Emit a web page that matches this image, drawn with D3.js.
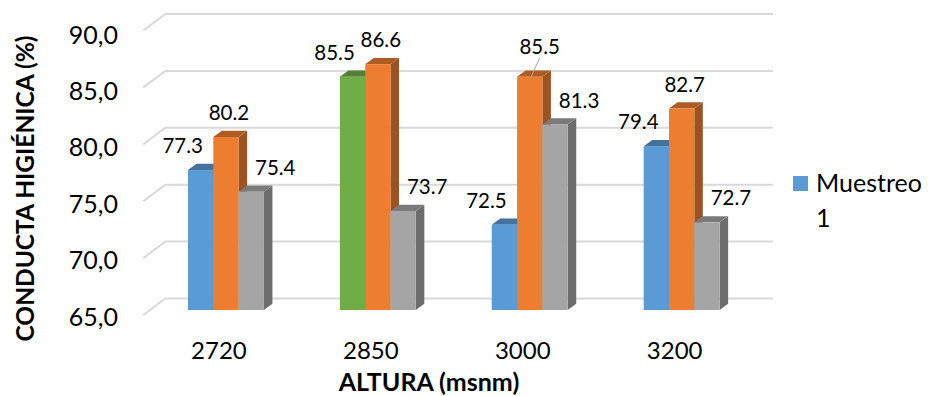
<!DOCTYPE html>
<html>
<head>
<meta charset="utf-8">
<script src="https://cdn.jsdelivr.net/npm/d3@7/dist/d3.min.js"></script>
<style>
  html, body { margin: 0; padding: 0; background: #ffffff; }
  svg { display: block; font-family: Lato, "Open Sans", "DejaVu Sans", sans-serif; }
</style>
</head>
<body>
<svg id="chart" width="928" height="396"></svg>
<script>
// ---- data ----
const categories = ["2720", "2850", "3000", "3200"];
const serie1 = [77.3, 85.5, 72.5, 79.4];
const serie2 = [80.2, 86.6, 85.5, 82.7];
const serie3 = [75.4, 73.7, 81.3, 72.7];
const yTicks = [65, 70, 75, 80, 85, 90];
const legendLabel = "Muestreo 1";
const yTitle = "CONDUCTA HIGIÉNICA (%)";
const xTitle = "ALTURA (msnm)";

// ---- styling ----
const seriesColors = ["#5B9BD5", "#ED7D31", "#A5A5A5"];
// the 2850 column of the first series is painted green
const pointColors = { "0-2850": "#70AD47" };
const labelDx = [-18, 3, 24];          // horizontal shift of each series' value label
const labelNudge = { "1-3000": [7, -6] }; // labels moved off their default spot (drawn with a leader)

const series = [serie1, serie2, serie3];
const svg = d3.select("#chart");
const commaFmt = d3.formatLocale({ decimal: ",", thousands: ".", grouping: [3], currency: ["", ""] }).format(".1f");

// ---- 3D geometry (oblique projection) ----
const wallShift = [15.3, -11.5];   // front plane of the columns -> back wall
const floorEdge = [-22, 16.5];     // back wall -> front edge of the side wall
const depth = [8.5, -6.2];         // depth of each column

const x = d3.scaleBand().domain(categories).range([150, 757.6]);
const y = d3.scaleLinear().domain([65, 90]).range([310, 25.5]);
const barW = x.bandwidth() * 0.5 / 3;

const yBack = v => y(v) + wallShift[1];
const xBackL = x.range()[0] + wallShift[0];
const xBackR = x.range()[1] + wallShift[0];

// gridlines on the back wall and the left side wall
const grid = svg.append("g").attr("stroke", "#d9d9d9").attr("stroke-width", 2).attr("fill", "none");
yTicks.forEach(v => {
  grid.append("path")
    .attr("d", `M${xBackL + floorEdge[0]},${yBack(v) + floorEdge[1]} L${xBackL},${yBack(v)} L${xBackR},${yBack(v)}`);
});

// y axis labels
const yLab = d3.scaleLinear().domain([65, 90]).range([317, 35.3]);
const yAxis = svg.append("g").attr("transform", "translate(118,0)")
  .call(d3.axisLeft(yLab).tickValues(yTicks).tickFormat(commaFmt).tickSize(0).tickPadding(0));
yAxis.select(".domain").remove();
yAxis.selectAll("text").attr("font-family", "Lato, sans-serif").attr("font-size", 25).attr("fill", "#000");

// x axis labels along the front edge of the floor
const xLab = d3.scaleBand().domain(categories).range([x.range()[0] - 7, x.range()[1] - 7]);
const xAxis = svg.append("g").attr("transform", "translate(0,339)")
  .call(d3.axisBottom(xLab).tickSize(0).tickPadding(3));
xAxis.select(".domain").remove();
xAxis.selectAll("text").attr("font-family", "Lato, sans-serif").attr("font-size", 24).attr("fill", "#000");

// columns
const bars = svg.append("g");
const labels = svg.append("g").attr("font-size", 20.5).attr("text-anchor", "middle").attr("fill", "#000");
categories.forEach((cat, ci) => {
  const x0 = x(cat) + x.bandwidth() * 0.25;
  series.forEach((vals, si) => {
    const v = vals[ci];
    const base = pointColors[si + "-" + cat] || seriesColors[si];
    const xl = x0 + si * barW, xr = xl + barW;
    const yt = y(v), yb = y(65);
    const g = bars.append("g");
    // side face
    g.append("path")
      .attr("d", `M${xr},${yb} L${xr},${yt} L${xr + depth[0]},${yt + depth[1]} L${xr + depth[0]},${yb + depth[1]} Z`)
      .attr("fill", d3.color(base).darker(1.15));
    // top face
    g.append("path")
      .attr("d", `M${xl},${yt} L${xr},${yt} L${xr + depth[0]},${yt + depth[1]} L${xl + depth[0]},${yt + depth[1]} Z`)
      .attr("fill", d3.color(base).darker(0.85));
    // front face
    g.append("rect").attr("x", xl).attr("y", yt).attr("width", barW).attr("height", yb - yt).attr("fill", base);

    // value label
    const nudge = labelNudge[si + "-" + cat] || [0, 0];
    const lx = xl + barW / 2 + labelDx[si] + nudge[0];
    const ly = yt - 17 + nudge[1];
    labels.append("text").attr("x", lx).attr("y", ly).text(v.toFixed(1));
    if (nudge[0] || nudge[1]) {
      labels.append("line")
        .attr("x1", lx).attr("y1", ly + 4)
        .attr("x2", xl + barW / 2 + 1).attr("y2", yt + 1)
        .attr("stroke", "#a6a6a6").attr("stroke-width", 1);
    }
  });
});

// axis titles
svg.append("text")
  .attr("transform", "translate(34,188.5) rotate(-90)")
  .attr("text-anchor", "middle").attr("font-weight", "bold").attr("font-size", 24.5)
  .text(yTitle);
svg.append("text")
  .attr("x", 429).attr("y", 391)
  .attr("text-anchor", "middle").attr("font-weight", "bold").attr("font-size", 25)
  .text(xTitle);

// legend
const leg = svg.append("g");
leg.append("rect").attr("x", 793).attr("y", 176).attr("width", 15).attr("height", 15).attr("fill", seriesColors[0]);
const words = legendLabel.split(" ");
const lt = leg.append("text").attr("font-size", 25).attr("fill", "#000");
lt.append("tspan").attr("x", 816).attr("y", 192).text(words[0]);
lt.append("tspan").attr("x", 816).attr("y", 227).text(words.slice(1).join(" "));
</script>
</body>
</html>
